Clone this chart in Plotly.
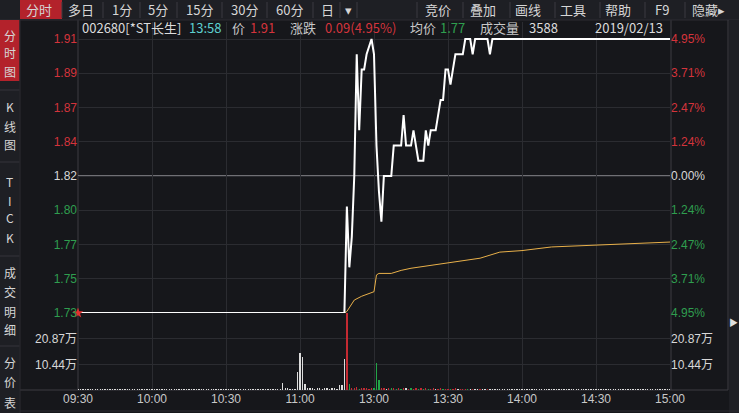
import plotly.graph_objects as go

W, H = 739, 413
L, R, T, B = 78, 69, 22, 23
PW = W - L - R
PH = H - T - B


def px(x):
    return (x - L) / PW


def py(y):
    return (H - B - y) / PH


# ---------------- data ----------------
time_ticks = [0, 30, 60, 90, 120, 150, 180, 210, 240]
time_labels = ["09:30", "10:00", "10:30", "11:00", "13:00", "13:30", "14:00", "14:30", "15:00"]

price_levels = [1.73, 1.7525, 1.775, 1.7975, 1.82, 1.8425, 1.865, 1.8875, 1.91]
price_labels = ["1.73", "1.75", "1.77", "1.80", "1.82", "1.84", "1.87", "1.89", "1.91"]
pct_labels = ["4.95%", "3.71%", "2.47%", "1.24%", "0.00%", "1.24%", "2.47%", "3.71%", "4.95%"]
level_side = ["g", "g", "g", "g", "n", "r", "r", "r", "r"]
prev_close = 1.82

price_min = [0, 108, 109, 110, 111, 112, 113, 114, 115, 116,
             117, 119, 120, 121, 122, 123, 124, 127, 128, 131,
             132, 133, 135, 136, 137, 138, 140, 141, 142, 143,
             145, 146, 147, 148, 149, 150, 151, 152, 153, 156,
             157, 159, 160, 161, 166, 167, 168, 240]
price_val = [1.73, 1.73, 1.80, 1.76, 1.78, 1.82, 1.90, 1.85, 1.89, 1.89,
             1.90, 1.91, 1.90, 1.84, 1.81, 1.79, 1.82, 1.82, 1.84, 1.84,
             1.86, 1.84, 1.84, 1.85, 1.84, 1.83, 1.83, 1.85, 1.84, 1.85,
             1.85, 1.86, 1.87, 1.87, 1.89, 1.89, 1.88, 1.89, 1.90, 1.90,
             1.91, 1.91, 1.90, 1.91, 1.91, 1.90, 1.91, 1.91]

avg_min = [0, 108, 109, 112, 115, 118, 120, 121, 122, 127,
           131, 135, 151, 163, 171, 180, 192, 212, 228, 240]
avg_val = [1.73, 1.73, 1.731, 1.7385, 1.741, 1.743, 1.744, 1.755, 1.756, 1.756,
           1.758, 1.7594, 1.763, 1.766, 1.770, 1.771, 1.7734, 1.7747, 1.776, 1.7766]

# volume per minute (unit: 万), minute 0 .. 240
vol = [
    0.35, 0.35, 0.35, 0.35, 0.35, 0.35, 0.35, 0.35, 0.35, 0.35,
    0.35, 0.35, 0.35, 0.35, 0.35, 0.35, 0.35, 0.35, 0.35, 0.35,
    0.35, 0.35, 0.35, 0.35, 0.35, 0.35, 0.35, 0.35, 0.35, 0.35,
    0.35, 0.35, 0.35, 0.35, 0.35, 0.35, 0.35, 0.35, 0.35, 0.35,
    0.35, 0.35, 0.35, 0.35, 0.35, 0.35, 0.35, 0.35, 0.35, 0.35,
    0.35, 0.35, 0.35, 0.35, 0.35, 0.35, 0.35, 0.35, 0.35, 0.35,
    0.35, 0.35, 0.35, 0.35, 0.35, 0.35, 0.35, 0.35, 0.35, 0.35,
    0.35, 0.35, 0.35, 0.35, 0.35, 0.35, 0.35, 0.35, 0.35, 0.35,
    0.35, 0.35, 0.35, 2.8, 1.0, 1.0, 0.5, 0.5, 0.6, 7.3,
    15.0, 13.4, 2.6, 1.0, 0.8, 0.8, 0.6, 0.9, 0.8, 0.6,
    0.9, 0.7, 0.6, 0.8, 0.9, 0.6, 2.0, 2.0, 12.7, 31.3,
    2.6, 1.0, 0.8, 1.2, 0.6, 0.9, 0.7, 1.0, 0.6, 0.8,
    0.7, 11.0, 4.0, 1.0, 0.9, 0.6, 0.8, 0.7, 0.9, 0.6,
    0.8, 0.6, 0.9, 0.7, 0.6, 0.8, 0.6, 0.7, 0.5, 0.8,
    0.6, 0.7, 0.5, 0.6, 0.8, 0.5, 0.6, 0.7, 0.5, 0.6,
    0.5, 0.6, 0.5, 0.7, 0.5, 0.4, 0.5, 0.6, 0.4, 0.5,
    0.4, 0.5, 0.4, 0.4, 0.5, 0.4, 0.4, 0.5, 0.4, 0.4,
    0.35, 0.35, 0.35, 0.35, 0.35, 0.35, 0.35, 0.35, 0.35, 0.35,
    0.35, 0.35, 0.35, 0.35, 0.35, 0.35, 0.35, 0.35, 0.35, 0.35,
    0.35, 0.35, 0.35, 0.35, 0.35, 0.35, 0.35, 0.35, 0.35, 0.35,
    0.35, 0.35, 0.35, 0.35, 0.35, 0.35, 0.35, 0.35, 0.35, 0.35,
    0.35, 0.35, 0.35, 0.35, 0.35, 0.35, 0.35, 0.35, 0.35, 0.35,
    0.35, 0.35, 0.35, 0.35, 0.35, 0.35, 0.35, 0.35, 0.35, 0.35,
    0.35, 0.35, 0.35, 0.35, 0.35, 0.35, 0.35, 0.35, 0.35, 0.35,
    0.35,
]
vol_side = (
    "wwwwwwwwww" "wwwwwwwwww" "wwwwwwwwww" "wwwwwwwwww" "wwwwwwwwww"
    "wwwwwwwwww" "wwwwwwwwww" "wwwwwwwwww" "wwwwwwwwww" "wwwwwwwwww"
    "wwwwwwwwwr" "grrrgrrrrr" "gggrrwrgrg" "rgrwrgrrgr" "grgrrwrrgr"
    "rgrrwrrrgw" "rwwrwwrwww" "wwwwwwwwww" "wwwwwwwwww" "wwwwwwwwww"
    "wwwwwwwwww" "wwwwwwwwww" "wwwwwwwwww" "wwwwwwwwww" "w"
)
vol_levels = [10.44, 20.87]
vol_labels = ["10.44万", "20.87万"]
vol_max = 31.3

# ---------------- styles ----------------
BG = "#16171b"
PANEL = "#1e1f24"
GRID = "#2b2c31"
RED = "#d4343c"
GREEN = "#2f9e4f"
WHITE = "#d8d8d8"
FONT = "Liberation Sans, Noto Sans CJK SC, sans-serif"
CJK = "Noto Sans CJK SC, Liberation Sans, sans-serif"
side_color = {"r": RED, "g": GREEN, "n": WHITE}
bar_color = {"w": "#dcdcdc", "r": "#c42a32", "g": "#22a447"}

p_low = 1.73
p_scale = 0.18 / 274.0
p_top = p_low + (313 - T) * p_scale
dom_split = (H - B - 313) / PH

fig = go.Figure()

fig.add_trace(go.Bar(
    x=list(range(len(vol))), y=vol, xaxis="x", yaxis="y2",
    marker=dict(color=[bar_color[c] for c in vol_side], line=dict(width=0)),
    width=0.55, hoverinfo="skip",
))
fig.add_trace(go.Scatter(
    x=avg_min, y=avg_val, xaxis="x", yaxis="y", mode="lines",
    line=dict(color="#e8b04a", width=1), hoverinfo="skip",
))
fig.add_trace(go.Scatter(
    x=price_min, y=price_val, xaxis="x", yaxis="y", mode="lines",
    line=dict(color="#ffffff", width=2), hoverinfo="skip",
))
fig.add_trace(go.Scatter(
    x=[price_min[0]], y=[price_val[0]], xaxis="x", yaxis="y", mode="markers",
    marker=dict(symbol="star", size=8, color="#e03030"), cliponaxis=False,
    hoverinfo="skip",
))

left_price_text = [f'<span style="color:{side_color[s]}">{t}</span>'
                   for t, s in zip(price_labels, level_side)]
right_pct_text = [f'<span style="color:{side_color[s]}">{t}</span>'
                  for t, s in zip(pct_labels, level_side)]

axis_common = dict(showline=False, zeroline=False, ticks="", fixedrange=True,
                   automargin=False)

fig.update_layout(
    width=W, height=H,
    margin=dict(l=L, r=R, t=T, b=B, pad=0, autoexpand=False),
    paper_bgcolor=BG, plot_bgcolor=BG,
    showlegend=False, hovermode=False, bargap=0,
    font=dict(family=FONT, size=12, color=WHITE),
    xaxis=dict(domain=[0, 1], range=[0, 240], anchor="y2",
               tickvals=time_ticks, ticktext=time_labels,
               tickfont=dict(size=12, color="#c8c8c8"),
               showgrid=True, gridcolor=GRID, gridwidth=1, **axis_common),
    yaxis=dict(domain=[dom_split, 1], range=[p_low, p_top], anchor="x",
               tickvals=price_levels, ticktext=left_price_text,
               tickfont=dict(size=12), showgrid=True, gridcolor=GRID,
               ticklabelstandoff=0, **axis_common),
    yaxis3=dict(overlaying="y", side="right", range=[p_low, p_top], anchor="x",
                tickvals=price_levels, ticktext=right_pct_text,
                tickfont=dict(size=12), showgrid=False, **axis_common),
    yaxis2=dict(domain=[0, dom_split], range=[0, vol_max], anchor="x",
                tickvals=vol_levels, ticktext=vol_labels,
                tickfont=dict(size=12, color=WHITE, family=FONT),
                showgrid=True, gridcolor=GRID, ticklabelstandoff=0, **axis_common),
    yaxis4=dict(overlaying="y2", side="right", range=[0, vol_max], anchor="x",
                tickvals=vol_levels, ticktext=vol_labels,
                tickfont=dict(size=12, color=WHITE, family=FONT),
                showgrid=False, **axis_common),
)
# empty traces so the overlaying right-hand axes render
fig.add_trace(go.Scatter(x=[None], y=[None], xaxis="x", yaxis="y3", hoverinfo="skip"))
fig.add_trace(go.Scatter(x=[None], y=[None], xaxis="x", yaxis="y4", hoverinfo="skip"))

shapes = []


def prect(x0, y0, x1, y1, fill, layer="below"):
    shapes.append(dict(type="rect", xref="paper", yref="paper",
                       x0=px(x0), x1=px(x1), y0=py(y1), y1=py(y0),
                       fillcolor=fill, line=dict(width=0), layer=layer))


def pline(x0, y0, x1, y1, color, width=1, layer="below"):
    shapes.append(dict(type="line", xref="paper", yref="paper",
                       x0=px(x0), x1=px(x1), y0=py(y0), y1=py(y1),
                       line=dict(color=color, width=width), layer=layer))


# toolbar
prect(0, 0, W, 20, PANEL, "above")
prect(20, 0, 62, 19, "#b3222b", "above")
for sx in [62, 103, 140, 177, 222, 267, 313, 340, 357, 417, 463, 510, 555, 600, 645, 685]:
    pline(sx, 2, sx, 18, "#3a3b41", 1, "above")
pline(0, 20, W, 20, "#2c2d32", 1, "above")
# sidebar
prect(0, 20, 19.5, H, PANEL, "above")
prect(0, 20, 19.5, 81, "#b3222b", "above")
for sy in [90, 162, 256, 346]:
    pline(0, sy, 19.5, sy, "#34353a", 1, "above")
pline(20, 20, 20, H, "#2c2d32", 1, "above")
# right strip
prect(729, 20, W, H, PANEL, "above")
# borders
pline(78, 20, 78, 390, "#3c3d42", 1)
pline(671, 20, 671, 390, "#3c3d42", 1)
pline(728, 20, 728, 390, "#3c3d42", 1, "above")
pline(20, 390, 728, 390, "#3c3d42", 1)
pline(20, 411, W, 411, "#2c2d32", 1, "above")
# previous close line
shapes.append(dict(type="line", xref="paper", yref="y", x0=0, x1=1,
                   y0=prev_close, y1=prev_close,
                   line=dict(color="#707075", width=2), layer="below"))
fig.update_layout(shapes=shapes)

ann = []


def ptext(x, y, text, color, size=13, anchor="left", family=CJK):
    ann.append(dict(xref="paper", yref="paper", x=px(x), y=py(y), text=text,
                    showarrow=False, xanchor=anchor, yanchor="middle",
                    font=dict(color=color, size=size, family=family)))


# toolbar labels
tb = [(38.5, "分时"), (80.5, "多日"), (122, "1分"), (158, "5分"), (199, "15分"),
      (244, "30分"), (289, "60分"), (327, "日"), (348.5, "▾"),
      (438, "竞价"), (483, "叠加"), (528, "画线"), (573, "工具"), (618, "帮助"),
      (662, "F9"), (708, "隐藏▸")]
for x, t in tb:
    ptext(x, 9.5, t, "#d6d6d6", 13, "center")

# sidebar labels
sb = [(35, "分"), (53, "时"), (71, "图"), (107, "K"), (126, "线"), (144, "图"),
      (181, "T"), (200, "I"), (218, "C"), (237, "K"), (272, "成"), (291, "交"),
      (311, "明"), (329, "细"), (362, "分"), (381, "价"), (402, "表")]
for y, t in sb:
    ptext(9.75, y, t, "#d6d6d6", 12, "center")
ptext(733, 322, "▶", "#e0e0e0", 9, "center")

# info line
info = [(80, "002680[*ST长生]", "#dcdcdc"), (187, "13:58", "#5ecfcf"),
        (230, "价", "#c8c8c8"), (248, "1.91", RED), (288, "涨跌", "#c8c8c8"),
        (323, "0.09(4.95%)", RED), (408, "均价", "#c8c8c8"), (438, "1.77", GREEN),
        (478, "成交量", "#c8c8c8"), (527, "3588", "#dcdcdc"),
        (593, "2019/02/13", "#dcdcdc")]
for x, t, c in info:
    ptext(x, 28, t, c, 13, "left")

fig.update_layout(annotations=ann)

fig.write_html(
    "out.html",
    config={"displayModeBar": False, "staticPlot": True},
    post_script="document.body.style.margin='0';document.body.style.overflow='hidden';",
)
